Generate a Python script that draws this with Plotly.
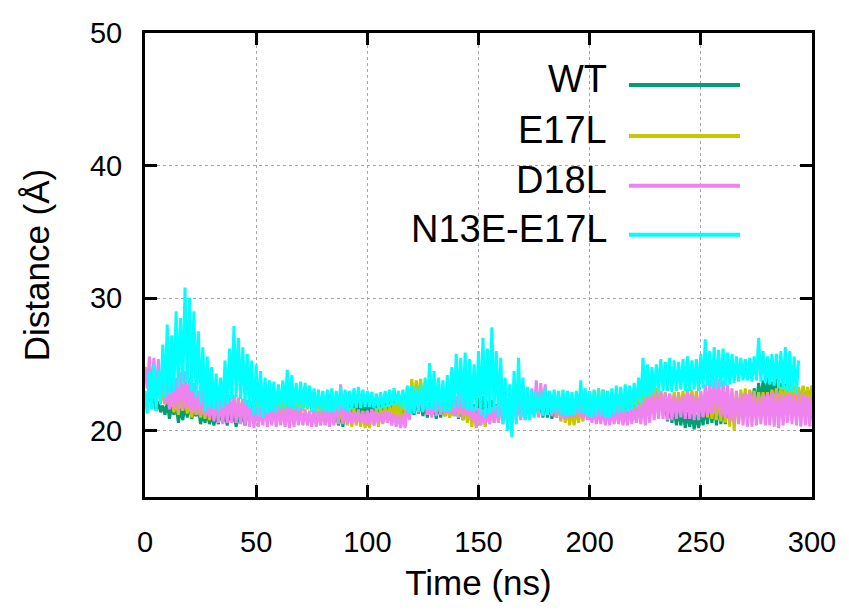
import plotly.graph_objects as go

STEP_NS = 1
WT = [
    22.6, 21.9, 23.0, 22.1, 22.4, 21.5, 22.2, 21.4, 21.9, 21.2,
    22.1, 20.9, 21.8, 21.2, 22.0, 20.6, 21.7, 20.8, 21.9, 21.0,
    22.0, 20.9, 21.5, 21.1, 21.6, 20.5, 21.3, 20.6, 21.4, 20.5,
    21.2, 20.4, 21.3, 20.5, 21.5, 20.6, 21.3, 20.4, 21.5, 20.7,
    21.2, 20.3, 21.1, 20.6, 21.3, 20.4, 21.4, 20.8, 21.8, 20.9,
    21.6, 20.7, 21.5, 21.0, 21.9, 20.9, 22.0, 21.1, 22.1, 21.2,
    22.3, 21.2, 22.4, 21.4, 22.5, 21.3, 22.6, 21.6, 22.8, 21.5,
    22.9, 21.8, 23.3, 22.0, 23.1, 21.7, 22.9, 21.8, 22.7, 21.3,
    22.4, 21.0, 22.2, 21.1, 21.9, 20.6, 21.6, 20.4, 21.4, 20.3,
    21.8, 20.7, 22.0, 20.9, 22.2, 21.0, 22.3, 21.2, 22.4, 21.1,
    22.5, 21.3, 22.3, 21.4, 22.4, 21.3, 22.6, 21.5, 22.7, 21.4,
    22.5, 21.2, 22.4, 21.3, 22.2, 21.0, 22.3, 21.1, 22.0, 21.2,
    21.9, 21.2, 22.4, 21.3, 22.3, 21.1, 22.2, 21.0, 22.1, 21.2,
    22.0, 20.9, 22.2, 21.0, 22.1, 21.1, 22.3, 21.0, 22.4, 21.1,
    22.2, 20.9, 21.8, 20.8, 22.0, 21.0, 22.1, 20.9, 22.0, 21.1,
    22.5, 21.3, 22.6, 21.2, 22.2, 21.0, 22.3, 20.9, 22.0, 21.0,
    22.0, 20.8, 22.3, 21.1, 22.2, 21.0, 22.5, 21.2, 22.4, 21.1,
    22.4, 21.0, 22.3, 21.2, 22.6, 21.3, 22.5, 21.1, 22.4, 21.0,
    22.5, 21.0, 22.1, 20.9, 22.0, 21.0, 22.2, 21.1, 22.1, 21.0,
    22.3, 21.1, 22.2, 21.2, 22.4, 21.1, 22.3, 21.2, 22.4, 21.0,
    22.2, 21.0, 22.4, 21.1, 22.5, 21.2, 22.3, 21.0, 22.2, 21.2,
    22.4, 21.0, 22.3, 21.1, 22.0, 20.9, 21.9, 20.8, 22.1, 20.9,
    22.2, 20.8, 22.4, 21.0, 22.5, 21.0, 22.9, 21.5, 23.3, 21.8,
    23.2, 21.6, 22.8, 21.3, 22.2, 20.7, 22.0, 20.6, 21.7, 20.4,
    21.6, 20.4, 21.5, 20.2, 21.4, 20.3, 21.3, 20.1, 21.2, 20.2,
    21.6, 20.4, 21.9, 20.5, 22.2, 20.6, 22.3, 20.4, 22.0, 20.5,
    21.8, 20.5, 22.1, 20.7, 22.4, 20.8, 22.5, 21.0, 22.8, 21.2,
    22.9, 21.4, 23.0, 21.6, 23.2, 21.9, 23.6, 22.2, 23.8, 22.3,
    24.0, 22.5, 23.7, 22.6, 23.9, 22.4, 23.6, 22.3, 23.5, 22.2,
    23.3, 22.0, 23.2, 21.8, 23.1, 21.9, 23.3, 22.0, 23.2, 21.9,
    23.4]

E17L = [
    24.8, 23.6, 24.2, 22.9, 23.8, 22.6, 23.4, 22.1, 23.0, 22.0,
    22.7, 21.8, 22.5, 21.4, 22.4, 21.2, 22.7, 21.5, 22.6, 21.3,
    22.2, 21.0, 22.0, 21.2, 21.8, 21.0, 22.0, 20.9, 22.1, 20.8,
    22.2, 20.9, 22.3, 21.0, 22.5, 21.2, 22.7, 21.3, 22.6, 21.1,
    22.6, 21.0, 22.5, 20.9, 22.4, 21.0, 22.3, 20.8, 22.2, 20.9,
    22.6, 21.1, 23.0, 21.3, 22.7, 21.0, 22.5, 21.1, 22.6, 21.2,
    22.6, 21.2, 22.8, 21.3, 22.7, 21.4, 22.8, 21.2, 22.7, 21.3,
    22.9, 21.5, 23.0, 21.6, 22.9, 21.4, 22.8, 21.3, 22.7, 21.2,
    22.5, 21.0, 22.4, 20.9, 22.3, 20.8, 22.1, 20.6, 22.0, 20.5,
    21.9, 20.4, 21.8, 20.3, 21.7, 20.4, 21.6, 20.3, 21.5, 20.2,
    21.5, 20.2, 21.6, 20.4, 21.7, 20.3, 21.8, 20.5, 21.9, 20.6,
    22.0, 20.8, 22.1, 20.9, 22.4, 21.0, 22.8, 21.2, 23.3, 21.7,
    23.9, 22.1, 23.8, 22.3, 23.9, 22.2, 23.6, 21.9, 23.2, 21.6,
    22.8, 21.4, 22.4, 21.2, 22.3, 21.1, 22.2, 21.0, 22.3, 21.1,
    22.2, 21.0, 22.1, 20.8, 22.0, 20.6, 21.8, 20.3, 21.5, 20.2,
    21.6, 20.4, 21.5, 20.3, 21.6, 20.5, 21.7, 20.6, 21.8, 20.7,
    22.0, 20.8, 22.2, 20.9, 22.3, 21.0, 22.4, 20.9, 22.5, 21.0,
    22.6, 21.2, 22.8, 21.3, 22.9, 21.5, 23.1, 21.6, 23.2, 21.8,
    23.3, 21.8, 22.8, 21.2, 22.4, 21.0, 22.0, 20.7, 21.8, 20.6,
    21.7, 20.4, 21.6, 20.4, 21.7, 20.6, 21.8, 20.7, 22.1, 20.9,
    22.6, 21.0, 23.0, 21.3, 23.2, 21.4, 23.1, 21.5, 23.0, 21.4,
    22.9, 21.3, 22.8, 21.2, 22.7, 21.2, 22.8, 21.4, 22.9, 21.5,
    22.9, 21.6, 23.1, 21.7, 23.3, 21.8, 23.4, 21.7, 23.4, 21.6,
    23.2, 21.5, 23.0, 21.5, 22.9, 21.4, 22.8, 21.4, 22.9, 21.5,
    22.9, 21.5, 23.0, 21.6, 23.2, 21.6, 23.1, 21.4, 23.0, 21.3,
    22.8, 21.1, 22.6, 21.0, 22.5, 20.9, 22.4, 20.8, 22.6, 20.7,
    22.8, 20.6, 23.0, 20.3, 22.9, 20.0, 23.0, 20.6, 23.1, 21.2,
    23.2, 21.5, 23.1, 21.5, 23.0, 21.4, 22.9, 21.5, 22.9, 21.6,
    22.9, 21.6, 23.1, 21.7, 23.2, 21.7, 23.3, 21.8, 23.4, 21.8,
    23.5, 21.6, 23.4, 21.7, 23.3, 21.5, 23.4, 21.6, 23.3, 21.5,
    23.4]

D18L = [
    24.8, 23.2, 25.6, 22.6, 25.5, 22.5, 25.4, 22.3, 25.0, 22.0,
    24.3, 21.6, 24.1, 21.7, 24.0, 21.5, 24.4, 21.6, 24.5, 21.7,
    24.0, 21.4, 23.6, 21.3, 23.0, 21.2, 23.1, 21.1, 22.9, 21.0,
    22.7, 20.7, 22.6, 20.6, 22.5, 20.5, 22.6, 20.6, 22.7, 20.6,
    22.7, 20.6, 22.5, 20.5, 22.4, 20.4, 22.3, 20.3, 22.0, 20.2,
    21.9, 20.3, 21.8, 20.4, 21.9, 20.3, 21.8, 20.4, 21.9, 20.3,
    21.8, 20.4, 21.7, 20.3, 21.7, 20.2, 21.8, 20.3, 21.8, 20.4,
    21.7, 20.4, 21.6, 20.4, 21.5, 20.3, 21.6, 20.3, 21.5, 20.4,
    21.6, 20.4, 21.5, 20.3, 21.6, 20.4, 22.4, 20.5, 23.5, 20.6,
    22.0, 20.5, 21.5, 20.5, 21.4, 20.6, 21.5, 20.6, 21.4, 20.5,
    21.5, 20.5, 21.6, 20.4, 21.5, 20.5, 21.4, 20.6, 21.5, 20.6,
    21.4, 20.4, 21.3, 20.3, 21.2, 20.2, 21.3, 20.2, 22.0, 20.8,
    23.0, 21.5, 23.1, 21.4, 23.2, 21.4, 22.6, 21.2, 22.0, 21.0,
    22.4, 21.1, 22.8, 21.2, 22.9, 21.3, 23.0, 21.3, 22.8, 21.2,
    22.6, 21.0, 22.9, 21.1, 23.3, 21.2, 22.8, 20.8, 21.8, 20.3,
    21.7, 20.4, 21.6, 20.5, 21.7, 20.5, 21.8, 20.6, 21.9, 20.6,
    22.5, 20.5, 22.2, 20.6, 22.0, 20.6, 22.2, 20.7, 22.4, 20.8,
    22.5, 20.8, 22.6, 20.9, 23.2, 21.0, 23.8, 21.0, 23.6, 21.1,
    23.5, 21.2, 23.0, 21.1, 22.6, 21.0, 22.5, 20.9, 22.4, 20.9,
    22.5, 21.0, 22.4, 21.0, 22.3, 21.0, 22.2, 20.9, 22.0, 20.8,
    21.8, 20.6, 21.7, 20.5, 21.7, 20.5, 21.8, 20.4, 21.7, 20.4,
    21.6, 20.5, 21.7, 20.5, 21.7, 20.4, 21.6, 20.4, 21.8, 20.5,
    21.8, 20.6, 22.0, 20.5, 22.3, 20.4, 22.5, 20.6, 22.8, 20.8,
    22.9, 20.9, 23.0, 20.9, 22.9, 20.8, 22.8, 20.8, 22.7, 20.9,
    22.6, 21.0, 22.7, 20.9, 22.9, 20.9, 22.8, 20.8, 22.7, 20.8,
    23.0, 21.0, 23.5, 21.2, 23.8, 21.3, 24.0, 21.3, 23.9, 21.1,
    23.8, 21.0, 23.5, 20.8, 23.2, 20.6, 23.0, 20.5, 22.8, 20.4,
    22.8, 20.3, 22.9, 20.3, 22.8, 20.4, 22.6, 20.5, 22.7, 20.4,
    22.8, 20.4, 22.9, 20.3, 23.0, 20.2, 22.8, 20.4, 22.7, 20.6,
    22.8, 20.5, 22.8, 20.4, 22.9, 20.3, 22.8, 20.4, 22.6, 20.3,
    22.5]

N13E_E17L = [
    23.0, 21.3, 24.5, 21.6, 25.0, 21.5, 24.6, 22.0, 26.5, 22.5,
    28.0, 22.8, 27.2, 23.0, 29.0, 23.2, 28.5, 23.5, 30.8, 23.6,
    30.0, 23.0, 29.0, 22.5, 27.5, 22.0, 26.3, 21.5, 25.6, 21.8,
    24.8, 21.6, 24.3, 21.5, 24.0, 21.7, 25.3, 22.0, 26.2, 22.3,
    27.9, 22.5, 27.0, 22.4, 26.3, 22.0, 25.8, 21.7, 25.3, 21.2,
    25.0, 21.1, 24.5, 21.0, 24.0, 21.3, 23.8, 21.5, 23.7, 21.4,
    23.5, 21.6, 23.8, 21.7, 24.6, 21.8, 24.2, 21.6, 23.6, 21.5,
    23.7, 21.6, 23.6, 21.7, 23.4, 21.5, 23.2, 21.4, 23.1, 21.5,
    23.0, 21.5, 23.1, 21.4, 23.2, 21.4, 23.0, 21.5, 23.3, 21.6,
    23.1, 21.5, 23.0, 21.6, 23.2, 21.7, 23.3, 21.7, 23.1, 21.8,
    23.0, 21.8, 22.9, 21.7, 22.8, 21.6, 22.9, 21.7, 23.0, 21.8,
    23.1, 21.9, 23.2, 21.9, 23.0, 21.7, 23.1, 21.6, 23.4, 21.3,
    23.4, 21.3, 23.3, 21.4, 23.5, 21.5, 24.0, 21.6, 25.1, 21.6,
    24.5, 21.5, 24.0, 21.4, 23.8, 21.5, 24.2, 21.5, 24.8, 21.7,
    25.8, 21.8, 25.5, 21.7, 25.9, 21.6, 25.4, 21.5, 25.0, 21.5,
    26.0, 21.2, 27.0, 21.0, 26.2, 21.3, 27.8, 21.5, 26.0, 21.0,
    25.5, 20.5, 24.0, 20.0, 23.5, 19.5, 24.5, 20.5, 25.5, 21.0,
    24.0, 20.8, 23.3, 20.8, 23.1, 21.0, 23.0, 21.3, 22.9, 21.2,
    23.2, 21.2, 23.0, 21.3, 23.1, 21.3, 23.0, 21.2, 23.1, 21.1,
    23.0, 21.2, 22.9, 21.2, 23.0, 21.3, 23.8, 21.3, 23.2, 21.1,
    23.0, 21.0, 23.1, 21.1, 23.2, 21.2, 23.1, 21.0, 23.0, 21.0,
    23.2, 21.2, 23.4, 21.3, 23.3, 21.4, 23.5, 21.5, 23.4, 21.6,
    23.6, 21.8, 24.0, 22.0, 25.5, 22.5, 25.0, 22.6, 24.8, 22.8,
    25.0, 22.9, 25.4, 23.0, 25.2, 23.0, 25.5, 22.9, 25.3, 23.0,
    25.2, 23.1, 25.4, 23.0, 25.6, 23.0, 25.3, 23.1, 25.4, 23.0,
    25.8, 23.2, 26.9, 23.4, 26.0, 23.3, 26.3, 23.2, 26.1, 23.3,
    26.2, 23.4, 25.9, 23.5, 25.8, 23.6, 25.6, 23.7, 25.5, 23.8,
    25.4, 23.8, 25.5, 23.7, 25.6, 23.8, 27.0, 23.7, 26.0, 23.6,
    25.6, 23.5, 25.8, 23.4, 25.8, 23.2, 26.0, 23.1, 26.3, 23.0,
    26.0, 22.9, 25.6, 22.8, 25.3]

SERIES_NAMES = ["WT", "E17L", "D18L", "N13E-E17L"]
SERIES_VALUES = [WT, E17L, D18L, N13E_E17L]
SERIES_COLORS = ["#009e73", "#c8c800", "#ee82ee", "#00ffff"]

X_TICKS = [0, 50, 100, 150, 200, 250, 300]
Y_TICKS = [20, 30, 40, 50]

FONT = "Liberation Sans"
TICK_FS = 29
TITLE_FS = 35
LEGEND_FS = 38

fig = go.Figure()
for name, vals, col in zip(SERIES_NAMES, SERIES_VALUES, SERIES_COLORS):
    t = [i * STEP_NS for i in range(len(vals))]
    fig.add_trace(go.Scatter(x=t, y=vals, mode="lines", name=name,
                             line=dict(color=col, width=3), showlegend=False))

# gnuplot-style key: right-aligned text with the line sample on its right
line_y = [0.888, 0.778, 0.671, 0.565]
text_y = [0.901, 0.791, 0.684, 0.578]
for name, col, ly, ty in zip(SERIES_NAMES, SERIES_COLORS, line_y, text_y):
    fig.add_annotation(x=0.696, y=ty, xref="paper", yref="paper", text=name,
                       showarrow=False, xanchor="right", yanchor="middle",
                       font=dict(family=FONT, size=LEGEND_FS, color="black"))
    fig.add_shape(type="line", xref="paper", yref="paper", x0=0.7256, x1=0.892,
                  y0=ly, y1=ly, line=dict(color=col, width=4))

axis_common = dict(showline=True, linecolor="black", linewidth=3, mirror="allticks",
                   ticks="inside", ticklen=12, tickwidth=3, tickcolor="black",
                   showgrid=True, gridcolor="#a8a8a8", gridwidth=1, griddash="dot",
                   zeroline=False, tickfont=dict(family=FONT, size=TICK_FS, color="black"))

fig.update_xaxes(range=[0, 300], tickvals=X_TICKS, ticklabelstandoff=17,
                 title=dict(text="Time (ns)", font=dict(family=FONT, size=TITLE_FS, color="black"),
                            standoff=14),
                 **axis_common)
fig.update_yaxes(range=[15, 50], tickvals=Y_TICKS, ticklabelstandoff=14,
                 title=dict(text="Distance (Å)", font=dict(family=FONT, size=TITLE_FS, color="black"),
                            standoff=30),
                 **axis_common)

fig.update_layout(width=849, height=612, margin=dict(l=145, r=37, t=33, b=115),
                  paper_bgcolor="white", plot_bgcolor="white")

fig.write_html("out.html", config={"displayModeBar": False},
               post_script="document.body.style.margin='0';document.body.style.overflow='hidden';")
